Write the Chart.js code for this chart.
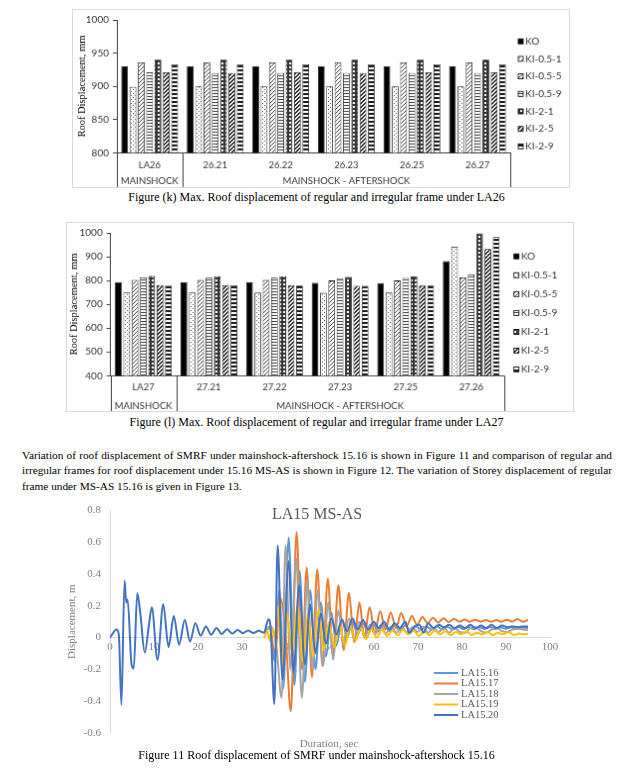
<!DOCTYPE html>
<html>
<head>
<meta charset="utf-8">
<title>Roof displacement - LA26 / LA27 / LA15</title>
<script src="https://cdn.jsdelivr.net/npm/chart.js"></script>
<style>
  body { margin: 0; background: #fff; width: 633px; height: 772px; position: relative; overflow: hidden;
         font-family: "Liberation Serif", "Times New Roman", serif; color: #000; }
  canvas { position: absolute; }
  .box { border: 1px solid #d9d9d9; }
  .cap { position: absolute; left: 0; width: 633px; text-align: center; font-size: 12px; line-height: 14px; white-space: nowrap; }
  .para { position: absolute; left: 22px; width: 590px; font-size: 11.3px; line-height: 15.6px; }
  .para .j { text-align: justify; text-align-last: justify; }
</style>
</head>
<body>

<canvas id="chartK" class="box" width="498" height="179" style="left:72px; top:9px;"></canvas>
<div class="cap" style="top:190px;">Figure (k) Max. Roof displacement of regular and irregular frame under LA26</div>

<canvas id="chartL" class="box" width="508" height="190" style="left:66px; top:222px;"></canvas>
<div class="cap" style="top:415px;">Figure (l) Max. Roof displacement of regular and irregular frame under LA27</div>

<div class="para" style="top:447.7px;">
  <div class="j">Variation of roof displacement of SMRF under mainshock-aftershock 15.16 is shown in Figure 11 and comparison of regular and</div>
  <div class="j">irregular frames for roof displacement under 15.16 MS-AS is shown in Figure 12. The variation of Storey displacement of regular</div>
  <div>frame under MS-AS 15.16 is given in Figure 13.</div>
</div>

<canvas id="chartLA15" width="540" height="260" style="left:60px; top:495px;"></canvas>
<div class="cap" style="top:748px;">Figure 11 Roof displacement of SMRF under mainshock-aftershock 15.16</div>

<script>
// ---- bar charts: frame names (legend) ----
const frameNames = ['KO', 'KI-0.5-1', 'KI-0.5-5', 'KI-0.5-9', 'KI-2-1', 'KI-2-5', 'KI-2-9'];

// Figure (k) - LA26, max roof displacement (mm)
const la26Cats = ['LA26', '26.21', '26.22', '26.23', '26.25', '26.27'];
const la26Groups = ['MAINSHOCK', 'MAINSHOCK - AFTERSHOCK'];
const la26GroupSpan = [1, 5];
const la26KO    = [930, 930, 930, 930, 930, 930];
const la26K051  = [899, 900, 900, 900, 900, 900];
const la26K055  = [936, 936, 936, 936, 936, 936];
const la26K059  = [921, 920, 920, 920, 920, 920];
const la26K21   = [940, 940, 940, 940, 940, 940];
const la26K25   = [921, 920, 921, 920, 921, 921];
const la26K29   = [933, 933, 933, 933, 933, 933];

// Figure (l) - LA27, max roof displacement (mm)
const la27Cats = ['LA27', '27.21', '27.22', '27.23', '27.25', '27.26'];
const la27Groups = ['MAINSHOCK', 'MAINSHOCK - AFTERSHOCK'];
const la27GroupSpan = [1, 5];
const la27KO    = [793, 792, 792, 790, 789, 881];
const la27K051  = [750, 750, 750, 748, 749, 942];
const la27K055  = [803, 802, 802, 800, 800, 813];
const la27K059  = [813, 812, 812, 810, 811, 826];
const la27K21   = [819, 818, 818, 815, 817, 998];
const la27K25   = [781, 780, 780, 778, 779, 932];
const la27K29   = [781, 780, 779, 778, 779, 982];

// ---- Figure 11: roof displacement time histories [time s, displacement m] ----
const la1516 = [[35, 0.03], [36.3, 0.07], [37.4, -0.15], [38.5, 0.3], [39.4, -0.32], [40.6, 0.63], [41.9, -0.3],
  [43.1, 0.42], [44.3, -0.28], [45.5, 0.3], [46.7, -0.2], [47.9, 0.22], [49.1, -0.12], [50.3, 0.16], [51.5, -0.05],
  [52.7, 0.12], [53.9, 0.0], [55.1, 0.1], [56.3, 0.02], [57.5, 0.09], [58.7, 0.03], [59.9, 0.08], [61.1, 0.04],
  [62.3, 0.08], [63.5, 0.04], [64.7, 0.075], [65.9, 0.045], [67.1, 0.075], [68.3, 0.045], [69.5, 0.07], [70.7, 0.05],
  [71.9, 0.07], [73.1, 0.05], [74.3, 0.07], [75.5, 0.05], [76.7, 0.068], [77.9, 0.05], [79.1, 0.068], [80.3, 0.052],
  [81.5, 0.066], [82.7, 0.052], [83.9, 0.066], [85.1, 0.054], [86.3, 0.066], [87.5, 0.054], [88.7, 0.064],
  [89.9, 0.055], [91.1, 0.064], [92.3, 0.056], [93.5, 0.063], [95, 0.06]];
const la1517 = [[35, 0.03], [36.3, 0.06], [37.5, -0.1], [38.7, 0.25], [39.9, 0.02], [41.1, -0.465], [42.4, 0.665],
  [43.6, -0.2], [44.7, 0.44], [45.9, -0.25], [47.1, 0.43], [48.3, -0.18], [49.5, 0.37], [50.7, -0.12], [51.9, 0.33],
  [53.1, -0.08], [54.3, 0.28], [55.5, -0.03], [56.7, 0.22], [57.8, 0.0], [59.0, 0.19], [60.2, 0.03], [61.4, 0.165],
  [62.6, 0.05], [63.8, 0.158], [65.0, 0.06], [66.2, 0.155], [67.4, 0.07], [68.6, 0.135], [69.8, 0.08], [71.0, 0.13],
  [72.2, 0.09], [73.4, 0.125], [74.6, 0.095], [75.8, 0.122], [77.0, 0.098], [78.2, 0.118], [79.4, 0.1], [80.6, 0.114],
  [81.8, 0.1], [83.0, 0.112], [84.2, 0.1], [85.4, 0.11], [86.6, 0.1], [87.8, 0.11], [89.0, 0.1], [90.2, 0.112],
  [91.4, 0.1], [92.6, 0.117], [93.8, 0.1], [95.0, 0.11]];
const la1518 = [[35, 0.03], [36.6, 0.07], [37.8, -0.05], [39.0, -0.38], [39.9, 0.58], [41.0, -0.2], [42.3, 0.5],
  [43.6, -0.38], [44.8, 0.35], [46.0, -0.2], [47.2, 0.3], [48.4, -0.18], [49.6, 0.22], [50.7, -0.14], [51.9, 0.17],
  [53.1, -0.05], [54.3, 0.12], [55.5, -0.01], [56.7, 0.1], [57.9, 0.0], [59.1, 0.08], [60.3, 0.02], [61.5, 0.075],
  [62.7, 0.025], [63.9, 0.07], [65.1, 0.03], [66.3, 0.07], [67.5, 0.03], [68.7, 0.065], [69.9, 0.035], [71.1, 0.07],
  [72.3, 0.03], [73.5, 0.06], [74.7, 0.035], [75.9, 0.065], [77.1, 0.03], [78.3, 0.06], [79.5, 0.035], [80.7, 0.03],
  [81.9, 0.06], [83.1, 0.065], [84.3, 0.04], [85.5, 0.03], [86.7, 0.05], [87.9, 0.06], [89.1, 0.04], [90.3, 0.035],
  [91.5, 0.05], [92.7, 0.055], [93.9, 0.05], [95, 0.045]];
const la1519 = [[35, 0.0], [35.8, 0.04], [36.3, -0.02], [36.8, 0.06], [37.4, 0.0], [38.2, 0.2], [39.0, -0.18],
  [40.2, 0.15], [41.4, -0.1], [42.6, 0.2], [43.8, -0.15], [45.0, 0.15], [46.2, -0.12], [47.4, 0.18], [48.6, -0.08],
  [49.8, 0.1], [51.0, -0.06], [52.2, 0.08], [53.4, -0.05], [54.6, 0.07], [55.8, -0.02], [57.0, 0.06], [58.2, -0.01],
  [59.4, 0.05], [60.6, 0.0], [61.8, 0.05], [63.0, 0.01], [64.2, 0.045], [65.4, 0.015], [66.6, 0.05], [67.8, 0.02],
  [69.0, 0.045], [70.2, 0.01], [71.4, 0.04], [72.6, 0.015], [73.8, 0.045], [75.0, 0.02], [76.2, 0.04], [77.4, 0.015],
  [78.6, 0.035], [79.8, 0.02], [81.0, 0.04], [82.2, 0.015], [83.4, 0.03], [84.6, 0.02], [85.8, 0.035], [87.0, 0.015],
  [88.2, 0.03], [89.4, 0.02], [90.6, 0.035], [91.8, 0.015], [93.0, 0.025], [94.2, 0.02], [95.0, 0.025]];
const la1520 = [[0, 0], [1.5, 0.05], [2.0, 0.02], [2.6, -0.425], [3.3, 0.36], [3.7, 0.22], [4.0, 0.24], [4.9, -0.17],
  [5.4, -0.195], [6.2, 0.28], [6.9, 0.15], [7.9, -0.095], [8.9, 0.09], [9.5, 0.19], [10.8, -0.14], [12.1, 0.21],
  [13.3, -0.06], [14.5, 0.135], [15.7, -0.045], [17.0, 0.11], [18.2, -0.025], [19.4, 0.09], [20.6, 0.012], [21.8, 0.07],
  [23.0, 0.018], [24.2, 0.06], [25.4, 0.022], [26.6, 0.052], [27.8, 0.025], [29.0, 0.048], [30.2, 0.027], [31.4, 0.045],
  [32.6, 0.028], [33.8, 0.042], [35.0, 0.03], [36.0, 0.115], [36.5, 0.06], [37.35, -0.42], [38.1, 0.58], [39.2, -0.265],
  [40.6, 0.48], [41.7, -0.22], [43.0, 0.33], [44.3, -0.17], [45.5, 0.21], [46.7, -0.1], [47.9, 0.15], [49.1, -0.04],
  [50.3, 0.12], [51.5, 0.02], [52.7, 0.11], [53.9, 0.04], [55.1, 0.12], [56.3, 0.05], [57.5, 0.11], [58.7, 0.05],
  [59.9, 0.1], [61.1, 0.06], [62.3, 0.1], [63.5, 0.05], [64.7, 0.09], [65.9, 0.06], [67.1, 0.1], [68.0, 0.03],
  [69.2, 0.07], [70.3, 0.08], [71.3, 0.03], [72.3, 0.09], [73.5, 0.06], [74.7, 0.08], [75.9, 0.065], [77.1, 0.08],
  [78.3, 0.06], [79.5, 0.075], [80.7, 0.06], [81.9, 0.08], [83.1, 0.06], [84.3, 0.075], [85.5, 0.06], [86.7, 0.08],
  [87.9, 0.06], [89.1, 0.075], [90.3, 0.065], [91.5, 0.07], [92.7, 0.065], [93.9, 0.07], [95.0, 0.068]];
const la15Names = ['LA15.16', 'LA15.17', 'LA15.18', 'LA15.19', 'LA15.20'];
const la15Colors = ['#5b9bd5', '#ed7d31', '#a5a5a5', '#ffc000', '#4472c4'];

Chart.defaults.font.family = 'Lato';

// small repeating fills for the black & white bars
function tile(w, h, draw) {
  const c = document.createElement('canvas');
  c.width = w; c.height = h;
  const g = c.getContext('2d');
  g.fillStyle = '#fff';
  g.fillRect(0, 0, w, h);
  draw(g);
  return g.createPattern(c, 'repeat');
}
const barFills = [
  '#000000',
  tile(4, 4, g => { g.fillStyle = '#555'; g.fillRect(0, 0, 1, 1); g.fillRect(2, 2, 1, 1); }),
  tile(4, 4, g => { g.fillStyle = '#444'; [[0, 3], [1, 2], [2, 1], [3, 0]].forEach(p => g.fillRect(p[0], p[1], 1, 1)); }),
  tile(1, 3, g => { g.fillStyle = '#444'; g.fillRect(0, 0, 1, 1); }),
  tile(4, 4, g => { g.fillStyle = '#333'; g.fillRect(0, 0, 4, 4); g.fillStyle = '#fff'; g.fillRect(1, 1, 2, 2); }),
  tile(4, 4, g => { g.fillStyle = '#222'; [[0, 3], [1, 2], [2, 1], [3, 0], [0, 2], [1, 1], [2, 0], [3, 3]].forEach(p => g.fillRect(p[0], p[1], 1, 1)); }),
  tile(1, 4, g => { g.fillStyle = '#1a1a1a'; g.fillRect(0, 0, 1, 2); })
];

// two-row category table under the bar charts
const catTable = {
  id: 'catTable',
  afterDraw(chart, args, opts) {
    const { ctx, chartArea } = chart;
    const x = chart.scales.x;
    const half = (x.getPixelForValue(1) - x.getPixelForValue(0)) / 2;
    ctx.save();
    ctx.strokeStyle = opts.lineColor;
    ctx.lineWidth = 1;
    ctx.font = opts.font;
    ctx.fillStyle = opts.color;
    ctx.textAlign = 'center';
    ctx.textBaseline = 'middle';
    const edges = [chartArea.left];
    let start = 0;
    opts.spans.forEach((n, g) => {
      const left = x.getPixelForValue(start) - half;
      const right = x.getPixelForValue(start + n - 1) + half;
      edges.push(right);
      ctx.fillText(opts.groups[g], (left + right) / 2, chartArea.bottom + opts.labelOffset);
      start += n;
    });
    edges.forEach(px => {
      const xx = Math.round(px) + 0.5;
      ctx.beginPath();
      ctx.moveTo(xx, chartArea.bottom);
      ctx.lineTo(xx, chart.height);
      ctx.stroke();
    });
    ctx.restore();
  }
};

const boxLegend = {
  id: 'boxLegend',
  afterDraw(chart, args, opts) {
    const ctx = chart.ctx;
    ctx.save();
    ctx.font = opts.font;
    ctx.textBaseline = 'middle';
    chart.data.datasets.forEach((ds, i) => {
      const y = opts.y + i * opts.gap;
      ctx.fillStyle = ds.backgroundColor;
      ctx.fillRect(opts.x, y - opts.size / 2, opts.size, opts.size);
      ctx.strokeStyle = '#000';
      ctx.lineWidth = 0.8;
      ctx.strokeRect(opts.x, y - opts.size / 2, opts.size, opts.size);
      ctx.fillStyle = opts.color;
      ctx.fillText(ds.label, opts.x + opts.size + 2, y);
    });
    ctx.restore();
  }
};

const lineLegend = {
  id: 'lineLegend',
  afterDraw(chart, args, opts) {
    const ctx = chart.ctx;
    ctx.save();
    ctx.font = opts.font;
    ctx.textBaseline = 'middle';
    chart.data.datasets.forEach((ds, i) => {
      const y = opts.y + i * opts.gap;
      ctx.strokeStyle = ds.borderColor;
      ctx.lineWidth = 2;
      ctx.beginPath();
      ctx.moveTo(opts.x, y);
      ctx.lineTo(opts.x + opts.len, y);
      ctx.stroke();
      ctx.fillStyle = opts.color;
      ctx.fillText(ds.label, opts.x + opts.len + 3, y);
    });
    ctx.restore();
  }
};

const freeText = {
  id: 'freeText',
  afterDraw(chart, args, opts) {
    const ctx = chart.ctx;
    opts.items.forEach(t => {
      ctx.save();
      ctx.font = t.font;
      ctx.fillStyle = t.color;
      ctx.textAlign = 'center';
      ctx.textBaseline = 'middle';
      ctx.fillText(t.text, t.x, t.y);
      ctx.restore();
    });
  }
};

function barChart(id, cats, series, groups, spans, lay) {
  const datasets = series.map((vals, i) => ({
    label: frameNames[i],
    data: vals,
    backgroundColor: barFills[i],
    borderColor: '#000',
    borderWidth: 0.8,
    categoryPercentage: 0.89,
    barPercentage: 0.8
  }));
  return new Chart(document.getElementById(id), {
    type: 'bar',
    data: { labels: cats, datasets: datasets },
    plugins: [catTable, boxLegend],
    options: {
      responsive: false,
      animation: false,
      layout: { padding: { top: lay.top, right: lay.right, left: 0, bottom: 0 } },
      scales: {
        x: {
          grid: { display: false, drawTicks: false },
          border: { color: '#3f3f3f' },
          ticks: { font: { size: 9.5 }, color: '#333', padding: lay.tickPad },
          afterFit(s) { s.height = lay.xHeight; }
        },
        y: {
          min: lay.min, max: lay.max,
          ticks: { stepSize: lay.step, font: { size: 10 }, color: '#333', padding: 4, callback: v => String(v) },
          grid: { drawOnChartArea: false, tickLength: 4, color: '#3f3f3f' },
          border: { color: '#3f3f3f' },
          title: {
            display: true, text: 'Roof Displacement, mm', color: '#000',
            font: { family: 'Liberation Serif', size: 10.5 }, padding: { top: lay.titlePad, bottom: 0 }
          },
          afterFit(s) { s.width = lay.yWidth; }
        }
      },
      plugins: {
        legend: { display: false },
        tooltip: { enabled: false },
        catTable: { groups: groups, spans: spans, labelOffset: lay.groupOffset, lineColor: '#3f3f3f',
                    font: '9.5px Lato', color: '#333' },
        boxLegend: { x: lay.legX, y: lay.legY, gap: lay.legGap, size: 5, font: '10px Lato', color: '#333' }
      }
    }
  });
}

barChart('chartK', la26Cats, [la26KO, la26K051, la26K055, la26K059, la26K21, la26K25, la26K29],
  la26Groups, la26GroupSpan,
  { top: 5.7, right: 59, xHeight: 34.7, yWidth: 44, tickPad: 7, groupOffset: 28.7, titlePad: 2.7,
    min: 800, max: 1000, step: 50, legX: 447, legY: 31.7, legGap: 17.7 });

barChart('chartL', la27Cats, [la27KO, la27K051, la27K055, la27K059, la27K21, la27K25, la27K29],
  la27Groups, la27GroupSpan,
  { top: 7, right: 69.3, xHeight: 35.7, yWidth: 43.7, tickPad: 6, groupOffset: 30.7, titlePad: 0.7,
    min: 400, max: 1000, step: 100, legX: 448.7, legY: 33.7, legGap: 19.05 });

// Figure 11 line chart
const la15Series = [la1516, la1517, la1518, la1519, la1520];
new Chart(document.getElementById('chartLA15'), {
  type: 'line',
  data: {
    datasets: la15Series.map((pts, i) => ({
      label: la15Names[i],
      data: pts.map(p => ({ x: p[0], y: p[1] })),
      borderColor: la15Colors[i],
      backgroundColor: la15Colors[i],
      borderWidth: 2,
      pointRadius: 0,
      cubicInterpolationMode: 'monotone',
      order: la15Series.length - i
    }))
  },
  plugins: [lineLegend, freeText],
  options: {
    responsive: false,
    animation: false,
    layout: { padding: { top: 9.6, right: 50, bottom: 22.3, left: 0 } },
    scales: {
      x: {
        type: 'linear', min: 0, max: 100,
        position: { y: 0 },
        grid: { display: false, drawTicks: false },
        border: { color: '#d9d9d9' },
        ticks: { stepSize: 10, padding: 3.4, color: '#7f7f7f', font: { family: 'Liberation Serif', size: 11 } }
      },
      y: {
        min: -0.6, max: 0.8,
        grid: { display: false, drawTicks: false },
        border: { color: '#d9d9d9' },
        ticks: { stepSize: 0.2, padding: 9, color: '#7f7f7f', font: { family: 'Liberation Serif', size: 11 },
                 callback: v => String(+v.toFixed(1)) },
        title: { display: true, text: 'Displacement, m', color: '#7f7f7f',
                 font: { family: 'Liberation Serif', size: 11 }, padding: { top: 5.4, bottom: 0 } },
        afterFit(s) { s.width = 50; }
      }
    },
    plugins: {
      legend: { display: false },
      tooltip: { enabled: false },
      lineLegend: { x: 374, y: 178, gap: 10.5, len: 24, font: '10.5px "Liberation Serif"', color: '#595959' },
      freeText: { items: [
        { text: 'LA15 MS-AS', x: 257, y: 20, font: '16px "Liberation Serif"', color: '#595959' },
        { text: 'Duration, sec', x: 269, y: 249, font: '11px "Liberation Serif"', color: '#7f7f7f' }
      ] }
    }
  }
});
</script>
</body>
</html>
